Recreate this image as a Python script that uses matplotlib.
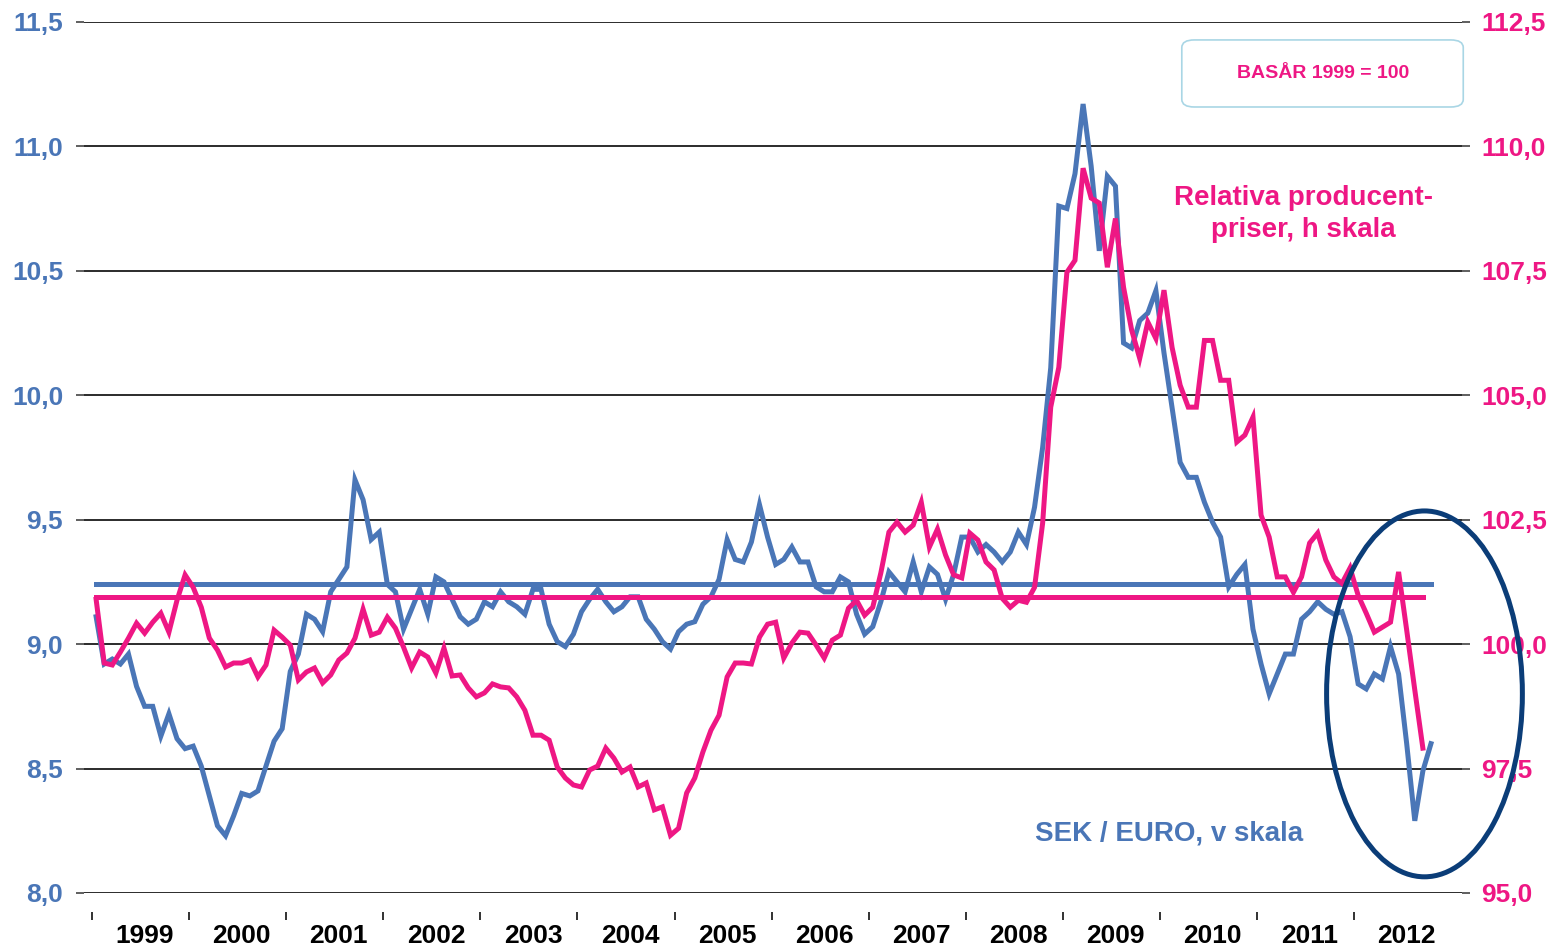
import matplotlib
matplotlib.use("Agg")
import matplotlib.pyplot as plt
from matplotlib.patches import Ellipse, FancyBboxPatch

# SEK per EURO, monthly Jan 1999 - Oct 2012 (left scale)
sek_euro = [9.11, 8.92, 8.94, 8.92, 8.96, 8.83, 8.75, 8.75, 8.63, 8.72, 8.62, 8.58,
            8.59, 8.51, 8.39, 8.27, 8.23, 8.31, 8.40, 8.39, 8.41, 8.51, 8.61, 8.66,
            8.89, 8.96, 9.12, 9.10, 9.05, 9.21, 9.26, 9.31, 9.66, 9.58, 9.42, 9.45,
            9.24, 9.21, 9.06, 9.14, 9.22, 9.12, 9.27, 9.25, 9.18, 9.11, 9.08, 9.10,
            9.17, 9.15, 9.21, 9.17, 9.15, 9.12, 9.22, 9.22, 9.08, 9.01, 8.99, 9.04,
            9.13, 9.18, 9.22, 9.17, 9.13, 9.15, 9.19, 9.19, 9.10, 9.06, 9.01, 8.98,
            9.05, 9.08, 9.09, 9.16, 9.19, 9.26, 9.42, 9.34, 9.33, 9.41, 9.56, 9.43,
            9.32, 9.34, 9.39, 9.33, 9.33, 9.23, 9.21, 9.21, 9.27, 9.25, 9.12, 9.04,
            9.07, 9.17, 9.29, 9.25, 9.21, 9.33, 9.21, 9.31, 9.28, 9.18, 9.28, 9.43,
            9.43, 9.37, 9.40, 9.37, 9.33, 9.37, 9.45, 9.40, 9.55, 9.79, 10.11, 10.76,
            10.75, 10.89, 11.17, 10.92, 10.58, 10.88, 10.84, 10.21, 10.19, 10.30, 10.33, 10.42,
            10.17, 9.95, 9.73, 9.67, 9.67, 9.57, 9.49, 9.43, 9.23, 9.28, 9.32, 9.06,
            8.92, 8.80, 8.88, 8.96, 8.96, 9.10, 9.13, 9.17, 9.14, 9.12, 9.13, 9.03,
            8.84, 8.82, 8.88, 8.86, 8.99, 8.88, 8.60, 8.29, 8.49, 8.60]

# Relative producer prices, base year 1999 = 100 (right scale)
rel_ppi = [100.90, 99.62, 99.58, 99.84, 100.12, 100.42, 100.22, 100.44, 100.62, 100.24, 100.88, 101.39,
           101.14, 100.74, 100.12, 99.88, 99.54, 99.62, 99.62, 99.68, 99.34, 99.58, 100.28, 100.14,
           99.98, 99.28, 99.44, 99.52, 99.22, 99.38, 99.68, 99.82, 100.12, 100.70, 100.18, 100.24,
           100.54, 100.32, 99.94, 99.52, 99.84, 99.74, 99.42, 99.92, 99.36, 99.38, 99.12, 98.94,
           99.02, 99.20, 99.14, 99.12, 98.94, 98.67, 98.17, 98.17, 98.07, 97.53, 97.31, 97.17,
           97.13, 97.47, 97.55, 97.91, 97.71, 97.43, 97.53, 97.13, 97.21, 96.67, 96.73, 96.16,
           96.30, 97.01, 97.31, 97.83, 98.27, 98.57, 99.34, 99.62, 99.62, 99.60, 100.14, 100.40,
           100.44, 99.72, 100.02, 100.24, 100.22, 99.98, 99.72, 100.08, 100.18, 100.72, 100.88, 100.58,
           100.74, 101.43, 102.25, 102.45, 102.25, 102.39, 102.85, 101.95, 102.31, 101.79, 101.39, 101.33,
           102.23, 102.09, 101.65, 101.49, 100.92, 100.74, 100.88, 100.84, 101.14, 102.43, 104.76, 105.56,
           107.47, 107.71, 109.56, 108.96, 108.86, 107.57, 108.55, 107.17, 106.31, 105.74, 106.47, 106.14,
           107.11, 105.96, 105.20, 104.76, 104.76, 106.10, 106.10, 105.30, 105.30, 104.06, 104.20, 104.56,
           102.59, 102.15, 101.35, 101.35, 101.04, 101.35, 102.03, 102.23, 101.69, 101.35, 101.22, 101.53,
           100.98, 100.62, 100.24, 100.34, 100.44, 101.45, 100.28, 99.08, 97.91]

sek_avg = 9.24
ppi_avg = 100.95

years = list(range(1999, 2013))
left_ticks = [8.0, 8.5, 9.0, 9.5, 10.0, 10.5, 11.0, 11.5]
right_ticks = [95.0, 97.5, 100.0, 102.5, 105.0, 107.5, 110.0, 112.5]

BLUE = "#4A76B7"
PINK = "#EE1784"
NAVY = "#0B3D78"
FONT = ["Liberation Sans", "DejaVu Sans"]

fig = plt.figure(figsize=(15.55, 9.51), dpi=100)
ax = fig.add_axes([0.054, 0.061, 0.886, 0.916])
ax2 = ax.twinx()

x_blue = list(range(len(sek_euro)))
x_pink = list(range(len(rel_ppi)))

ax.plot(x_blue, sek_euro, color=BLUE, lw=3.6, solid_joinstyle="miter", zorder=3)
ax.plot([0, len(sek_euro) - 1], [sek_avg, sek_avg], color=BLUE, lw=3.6, zorder=3)
ax2.plot(x_pink, rel_ppi, color=PINK, lw=3.6, solid_joinstyle="miter", zorder=3)
ax2.plot([0, len(rel_ppi) - 1], [ppi_avg, ppi_avg], color=PINK, lw=3.6, zorder=3)

ax.set_xlim(-1.5, 168.8)
ax.set_ylim(8.0, 11.5)
ax2.set_ylim(95.0, 112.5)

# gridlines
ax.set_yticks(left_ticks)
ax.set_yticklabels([f"{t:.1f}".replace(".", ",") for t in left_ticks])
ax2.set_yticks(right_ticks)
ax2.set_yticklabels([f"{t:.1f}".replace(".", ",") for t in right_ticks])
for t in left_ticks:
    ax.axhline(t, color="#1a1a1a", lw=1.3, zorder=1)

for a in (ax, ax2):
    for s in a.spines.values():
        s.set_visible(False)

ax.spines["bottom"].set_position(("outward", 14))
ax.set_xticks([12 * k - 0.5 for k in range(len(years))])
ax.set_xticklabels([])
ax.set_xticks([12 * k + 6 for k in range(len(years))], minor=True)
ax.set_xticklabels([str(y) for y in years], minor=True)
ax.tick_params(axis="x", which="major", length=6, width=1.3, color="#222222", direction="out")
ax.tick_params(axis="x", which="minor", length=0, pad=8)
for lab in ax.get_xticklabels(minor=True):
    lab.set_family(FONT)
    lab.set_fontsize(19)
    lab.set_fontweight("bold")
    lab.set_color("black")

ax.tick_params(axis="y", length=6, width=1.2, color="#444444", pad=9)
for lab in ax.get_yticklabels():
    lab.set_family(FONT)
    lab.set_fontsize(19)
    lab.set_fontweight("bold")
    lab.set_color(BLUE)
ax2.tick_params(axis="y", length=6, width=1.2, color="#444444", pad=8)
for lab in ax2.get_yticklabels():
    lab.set_family(FONT)
    lab.set_fontsize(19)
    lab.set_fontweight("bold")
    lab.set_color(PINK)

# base year box
box = FancyBboxPatch((0.760, 0.8875), 0.181, 0.0705, transform=fig.transFigure,
                     boxstyle="round,pad=0,rounding_size=0.008",
                     fc="white", ec="#A9D6E5", lw=1.2, zorder=5)
fig.patches.append(box)
fig.text(0.851, 0.923, "BASÅR 1999 = 100", color=PINK, fontsize=14,
         fontweight="bold", family=FONT, ha="center", va="center", zorder=6)

fig.text(0.838, 0.775, "Relativa producent-\npriser, h skala", color=PINK, fontsize=20,
         fontweight="bold", family=FONT, ha="center", va="center", linespacing=1.3)
fig.text(0.752, 0.124, "SEK / EURO, v skala", color=BLUE, fontsize=20,
         fontweight="bold", family=FONT, ha="center", va="center")

# ellipse in right-scale units so it sits above both lines
ell = Ellipse((164.2, 99.0), 24.2, 7.35, fill=False, ec=NAVY, lw=3.6,
              clip_on=False, zorder=10)
ax2.add_patch(ell)

fig.savefig("out.png", dpi=100)
